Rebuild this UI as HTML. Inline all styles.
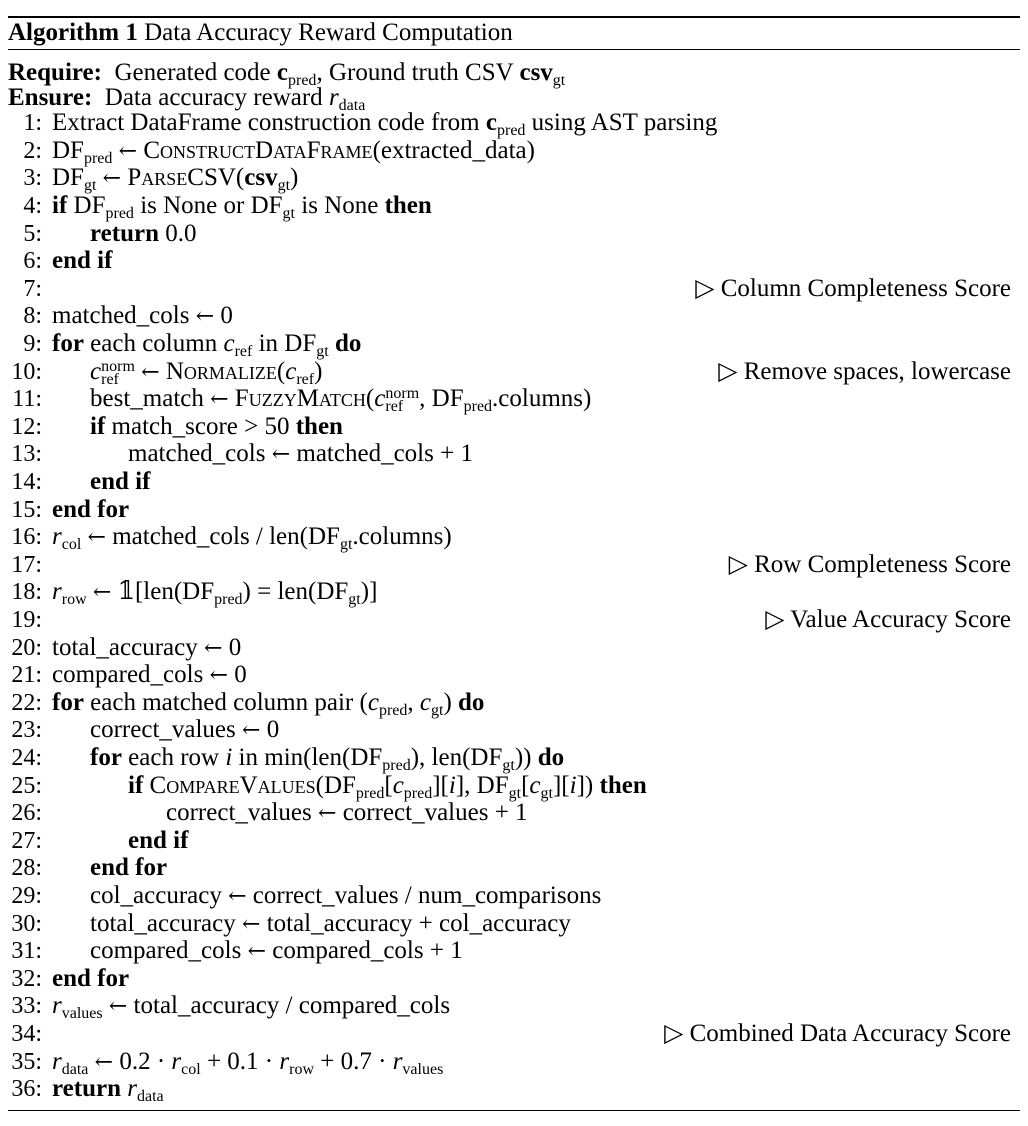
<!DOCTYPE html>
<html><head><meta charset="utf-8"><style>
html,body{margin:0;padding:0;background:#fff;}
body{width:1028px;height:1126px;position:relative;overflow:hidden;font-family:"Liberation Serif","DejaVu Serif",serif;font-size:25px;color:#000;}
.r{position:absolute;left:8px;width:1012px;background:#000;}
.l{position:absolute;left:0;width:1028px;height:28px;line-height:28px;white-space:nowrap;}
.n{position:absolute;left:0;width:42px;text-align:right;font-size:24px;}
.c{position:absolute;}
.cm{position:absolute;right:17px;}
sub{font-size:16px;vertical-align:-5px;line-height:0;}
.sc{font-variant:small-caps;}
i{font-style:italic;}
b{font-weight:bold;}
.a{font-family:"DejaVu Serif",serif;font-size:22px;}
.ss{display:inline-block;vertical-align:-5px;font-size:16px;line-height:13px;}
.ss span{display:block;}
</style></head><body>
<div class="r" style="top:16px;height:2px"></div>
<div class="r" style="top:49px;height:1px"></div>
<div class="r" style="top:1110px;height:1px"></div>

<div class="l" style="top:19px;left:8px"><b>Algorithm 1</b> Data Accuracy Reward Computation</div>
<div class="l" style="top:59px;left:8px"><b>Require:</b>&nbsp; Generated code <b>c</b><sub>pred</sub>, Ground truth CSV <b>csv</b><sub>gt</sub></div>
<div class="l" style="top:84px;left:8px"><b>Ensure:</b>&nbsp; Data accuracy reward <i>r</i><sub>data</sub></div>

<div class="l" style="top:109px"><span class="n">1:</span><span class="c" style="left:52px">Extract DataFrame construction code from <b>c</b><sub>pred</sub> using AST parsing</span></div>
<div class="l" style="top:137px"><span class="n">2:</span><span class="c" style="left:52px">DF<sub>pred</sub> <span class="a">←</span> <span class="sc">ConstructDataFrame</span>(extracted_data)</span></div>
<div class="l" style="top:164px"><span class="n">3:</span><span class="c" style="left:52px">DF<sub>gt</sub> <span class="a">←</span> <span class="sc">ParseCSV</span>(<b>csv</b><sub>gt</sub>)</span></div>
<div class="l" style="top:192px"><span class="n">4:</span><span class="c" style="left:52px"><b>if</b> DF<sub>pred</sub> is None or DF<sub>gt</sub> is None <b>then</b></span></div>
<div class="l" style="top:220px"><span class="n">5:</span><span class="c" style="left:90px"><b>return</b> 0.0</span></div>
<div class="l" style="top:247px"><span class="n">6:</span><span class="c" style="left:52px"><b>end if</b></span></div>
<div class="l" style="top:275px"><span class="n">7:</span><span class="cm">▷ Column Completeness Score</span></div>
<div class="l" style="top:302px"><span class="n">8:</span><span class="c" style="left:52px">matched_cols <span class="a">←</span> 0</span></div>
<div class="l" style="top:330px"><span class="n">9:</span><span class="c" style="left:52px"><b>for</b> each column <i>c</i><sub>ref</sub> in DF<sub>gt</sub> <b>do</b></span></div>
<div class="l" style="top:358px"><span class="n">10:</span><span class="c" style="left:90px"><i>c</i><span class="ss"><span>norm</span><span>ref</span></span> <span class="a">←</span> <span class="sc">Normalize</span>(<i>c</i><sub>ref</sub>)</span><span class="cm">▷ Remove spaces, lowercase</span></div>
<div class="l" style="top:385px"><span class="n">11:</span><span class="c" style="left:90px">best_match <span class="a">←</span> <span class="sc">FuzzyMatch</span>(<i>c</i><span class="ss"><span>norm</span><span>ref</span></span>, DF<sub>pred</sub>.columns)</span></div>
<div class="l" style="top:413px"><span class="n">12:</span><span class="c" style="left:90px"><b>if</b> match_score &gt; 50 <b>then</b></span></div>
<div class="l" style="top:440px"><span class="n">13:</span><span class="c" style="left:128px">matched_cols <span class="a">←</span> matched_cols + 1</span></div>
<div class="l" style="top:468px"><span class="n">14:</span><span class="c" style="left:90px"><b>end if</b></span></div>
<div class="l" style="top:496px"><span class="n">15:</span><span class="c" style="left:52px"><b>end for</b></span></div>
<div class="l" style="top:523px"><span class="n">16:</span><span class="c" style="left:52px"><i>r</i><sub>col</sub> <span class="a">←</span> matched_cols / len(DF<sub>gt</sub>.columns)</span></div>
<div class="l" style="top:551px"><span class="n">17:</span><span class="cm">▷ Row Completeness Score</span></div>
<div class="l" style="top:578px"><span class="n">18:</span><span class="c" style="left:52px"><i>r</i><sub>row</sub> <span class="a">←</span> 𝟙[len(DF<sub>pred</sub>) = len(DF<sub>gt</sub>)]</span></div>
<div class="l" style="top:606px"><span class="n">19:</span><span class="cm">▷ Value Accuracy Score</span></div>
<div class="l" style="top:634px"><span class="n">20:</span><span class="c" style="left:52px">total_accuracy <span class="a">←</span> 0</span></div>
<div class="l" style="top:661px"><span class="n">21:</span><span class="c" style="left:52px">compared_cols <span class="a">←</span> 0</span></div>
<div class="l" style="top:689px"><span class="n">22:</span><span class="c" style="left:52px"><b>for</b> each matched column pair (<i>c</i><sub>pred</sub>, <i>c</i><sub>gt</sub>) <b>do</b></span></div>
<div class="l" style="top:716px"><span class="n">23:</span><span class="c" style="left:90px">correct_values <span class="a">←</span> 0</span></div>
<div class="l" style="top:744px"><span class="n">24:</span><span class="c" style="left:90px"><b>for</b> each row <i>i</i> in min(len(DF<sub>pred</sub>), len(DF<sub>gt</sub>)) <b>do</b></span></div>
<div class="l" style="top:772px"><span class="n">25:</span><span class="c" style="left:128px"><b>if</b> <span class="sc">CompareValues</span>(DF<sub>pred</sub>[<i>c</i><sub>pred</sub>][<i>i</i>], DF<sub>gt</sub>[<i>c</i><sub>gt</sub>][<i>i</i>]) <b>then</b></span></div>
<div class="l" style="top:799px"><span class="n">26:</span><span class="c" style="left:166px">correct_values <span class="a">←</span> correct_values + 1</span></div>
<div class="l" style="top:827px"><span class="n">27:</span><span class="c" style="left:128px"><b>end if</b></span></div>
<div class="l" style="top:854px"><span class="n">28:</span><span class="c" style="left:90px"><b>end for</b></span></div>
<div class="l" style="top:882px"><span class="n">29:</span><span class="c" style="left:90px">col_accuracy <span class="a">←</span> correct_values / num_comparisons</span></div>
<div class="l" style="top:910px"><span class="n">30:</span><span class="c" style="left:90px">total_accuracy <span class="a">←</span> total_accuracy + col_accuracy</span></div>
<div class="l" style="top:937px"><span class="n">31:</span><span class="c" style="left:90px">compared_cols <span class="a">←</span> compared_cols + 1</span></div>
<div class="l" style="top:965px"><span class="n">32:</span><span class="c" style="left:52px"><b>end for</b></span></div>
<div class="l" style="top:992px"><span class="n">33:</span><span class="c" style="left:52px"><i>r</i><sub>values</sub> <span class="a">←</span> total_accuracy / compared_cols</span></div>
<div class="l" style="top:1020px"><span class="n">34:</span><span class="cm">▷ Combined Data Accuracy Score</span></div>
<div class="l" style="top:1048px"><span class="n">35:</span><span class="c" style="left:52px"><i>r</i><sub>data</sub> <span class="a">←</span> 0.2 · <i>r</i><sub>col</sub> + 0.1 · <i>r</i><sub>row</sub> + 0.7 · <i>r</i><sub>values</sub></span></div>
<div class="l" style="top:1075px"><span class="n">36:</span><span class="c" style="left:52px"><b>return</b> <i>r</i><sub>data</sub></span></div>
</body></html>
